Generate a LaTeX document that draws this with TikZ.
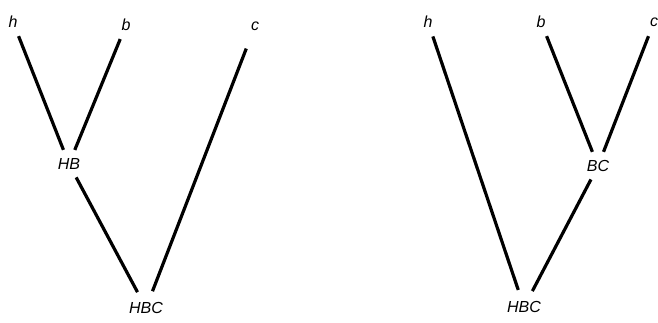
\documentclass[tikz,border=0pt]{standalone}
\usepackage{fontspec}
\setmainfont{Liberation Sans}
\begin{document}
\begin{tikzpicture}[x=1pt,y=-1pt,
  lbl/.style={circle,minimum size=30pt,inner sep=0pt,font=\itshape\fontsize{16}{16}\selectfont},
  edge/.style={line width=3.2pt}]
\useasboundingbox (0,0) rectangle (658,322);
% left tree
\node[lbl] (lh) at (13,22) {h};
\node[lbl] (lb) at (126,25) {b};
\node[lbl] (lc) at (255,26) {c};
\node[lbl] (lhb) at (69,164) {HB};
\node[lbl] (lhbc) at (146,308) {HBC};
\draw[edge] (lh) -- (lhb);
\draw[edge] (lb) -- (lhb);
\draw[edge] (lhb) -- (lhbc);
\draw[edge,shorten <=9pt] (lc) -- (lhbc);
% right tree
\node[lbl] (rh) at (428,22) {h};
\node[lbl] (rb) at (541,22) {b};
\node[lbl] (rc) at (654,22) {c};
\node[lbl] (rbc) at (598,166) {BC};
\node[lbl] (rhbc) at (524,307) {HBC};
\draw[edge] (rh) -- (rhbc);
\draw[edge] (rb) -- (rbc);
\draw[edge] (rc) -- (rbc);
\draw[edge] (rbc) -- (rhbc);
\end{tikzpicture}
\end{document}
